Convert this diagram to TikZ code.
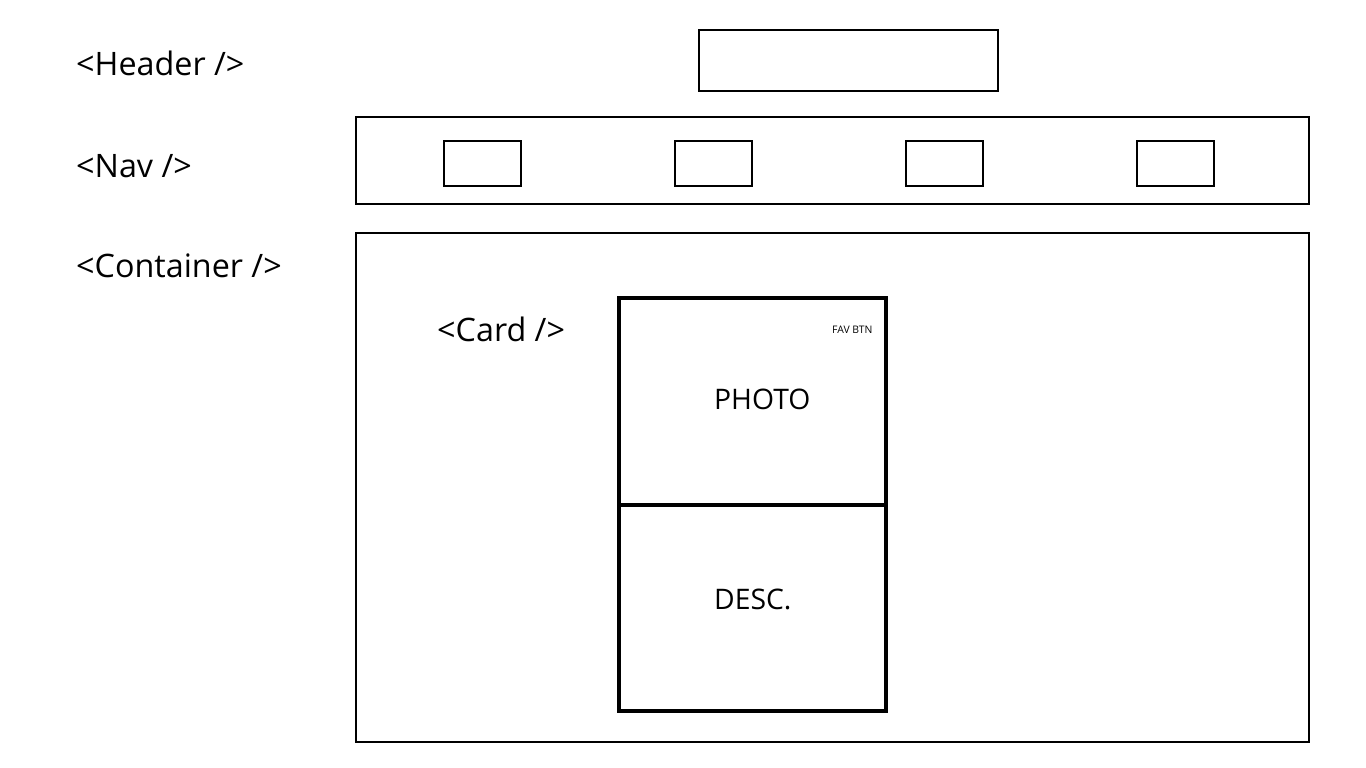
\documentclass[tikz,border=0pt]{standalone}
\usepackage{fontspec}
\setmainfont{Open Sans}
\begin{document}
\begin{tikzpicture}[x=1pt,y=-1pt,
  thin box/.style={draw=black,line width=1.2pt},
  card box/.style={draw=black,line width=4pt},
  tag/.style={anchor=base west,inner sep=0pt,font=\fontsize{32.3}{36}\selectfont},
  lbl/.style={anchor=base west,inner sep=0pt,font=\fontsize{28.3}{32}\selectfont},
  tiny/.style={anchor=base west,inner sep=0pt,font=\fontsize{10.4}{12}\selectfont}]
\useasboundingbox[fill=white] (0,0) rectangle (1366,768);
% labels
\node[tag] (th) at (76,76) {<Header />};
\node[tag] (tn) at (76,177) {<Nav />};
\node[tag] (tc) at (76,277) {<Container />};
% header
\draw[thin box] (699,30) rectangle (998,91);
% nav
\draw[thin box] (356,117) rectangle (1309,204);
\draw[thin box] (444,141) rectangle (521,186);
\draw[thin box] (675,141) rectangle (752,186);
\draw[thin box] (906,141) rectangle (983,186);
\draw[thin box] (1137,141) rectangle (1214,186);
% container
\draw[thin box] (356,233) rectangle (1309,742);
\node[tag] (tcard) at (437,341) {<Card />};
% card
\draw[card box] (619,298) rectangle (886,711);
\draw[card box] (619,505) -- (886,505);
\node[lbl] (photo) at (714,409) {PHOTO};
\node[lbl] (desc) at (714,609) {DESC.};
\node[tiny] (fav) at (832,333) {FAV BTN};
\end{tikzpicture}
\end{document}
